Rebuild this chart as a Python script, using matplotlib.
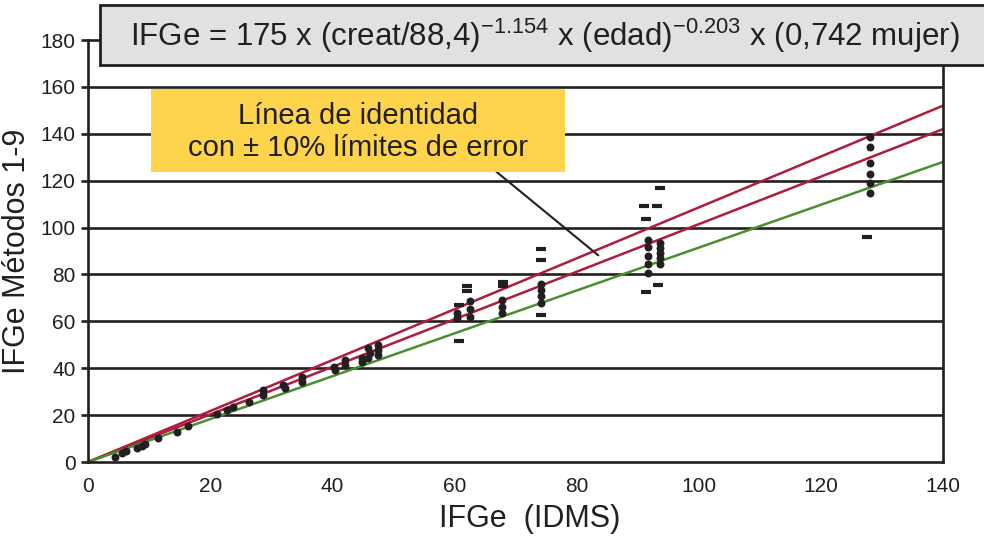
import matplotlib
matplotlib.use("Agg")
import matplotlib.pyplot as plt
from matplotlib.patches import Rectangle

# --- data ---
dots_x = [4.4, 5.5, 6.3, 8.0, 8.8, 9.3, 11.5, 14.5, 16.4, 21.1, 22.7, 23.8, 26.3, 28.7, 28.7,
          32.0, 32.3, 35.0, 35.0, 40.2, 40.5, 42.1, 42.1, 44.8, 44.8, 45.9, 46.2, 45.9,
          47.5, 47.5, 47.5,
          60.5, 60.5, 62.5, 62.5, 62.5,
          67.8, 67.8, 67.8,
          74.2, 74.2, 74.2, 74.2,
          91.7, 91.7, 91.7, 91.7, 91.7, 93.6, 93.6, 93.6, 93.6, 93.6,
          128.0, 128.0, 128.0, 128.0, 128.0, 128.0]
dots_y = [2.3, 3.7, 4.8, 5.8, 6.8, 7.7, 10.1, 12.9, 15.4, 20.3, 22.2, 23.6, 25.7, 28.6, 30.7,
          32.9, 31.4, 36.4, 34.2, 40.7, 39.2, 43.5, 41.4, 44.2, 42.8, 48.5, 46.4, 44.2,
          49.9, 47.8, 45.6,
          63.4, 61.3, 68.8, 65.3, 61.7,
          69.1, 66.3, 63.4,
          76.0, 73.5, 71.0, 68.0,
          94.7, 91.5, 88.0, 84.5, 80.5, 93.6, 91.1, 89.0, 86.9, 84.3,
          138.8, 134.2, 127.4, 122.9, 119.2, 114.6]

dash_x = [60.7, 60.7, 62.1, 62.1, 68.0, 68.0, 74.2, 74.2, 74.2,
          93.6, 91.1, 93.2, 91.4, 93.4, 91.4, 127.6]
dash_y = [67.0, 51.8, 75.1, 73.0, 76.9, 75.1, 90.9, 86.2, 62.7,
          116.8, 109.2, 109.2, 103.5, 75.5, 72.4, 95.9]

# identity line and error limits (end values at x = 140 as drawn)
line_x = [0, 140]
upper_y = [0, 152]
ident_y = [0, 142]
lower_y = [0, 128]

xticks = [0, 20, 40, 60, 80, 100, 120, 140]
yticks = [0, 20, 40, 60, 80, 100, 120, 140, 160, 180]

INK = "#231f20"
RED = "#ae1c3e"
GREEN = "#4a8f32"

plt.rcParams["font.family"] = ["Liberation Sans", "DejaVu Sans"]
plt.rcParams["mathtext.fontset"] = "custom"
plt.rcParams["mathtext.rm"] = "Liberation Sans"

fig = plt.figure(figsize=(9.84, 5.37), dpi=100)
ax = fig.add_axes([88 / 984, 1 - 462 / 537, 855 / 984, 422 / 537])

for yv in yticks[1:-1]:
    ax.axhline(yv, color=INK, lw=1.9, zorder=1)

ax.plot(line_x, upper_y, color=RED, lw=1.8, zorder=2)
ax.plot(line_x, ident_y, color=RED, lw=1.8, zorder=2)
ax.plot(line_x, lower_y, color=GREEN, lw=1.8, zorder=2)

ax.plot(dots_x, dots_y, "o", color=INK, ms=4.7, zorder=3)
ax.plot(dash_x, dash_y, "_", color=INK, ms=7, mew=3, zorder=3)

ax.set_xlim(0, 140)
ax.set_ylim(0, 180)
ax.set_xticks(xticks)
ax.set_yticks(yticks)
ax.tick_params(axis="x", length=0, pad=11, labelsize=15, labelcolor=INK)
ax.tick_params(axis="y", direction="out", length=5, width=1.9, color=INK, pad=4,
               labelsize=15, labelcolor=INK)
for s in ax.spines.values():
    s.set_linewidth(1.9)
    s.set_color(INK)

ax.set_xlabel("IFGe  (IDMS)", fontsize=22, labelpad=2, color=INK)
ax.xaxis.set_label_coords(0.517, -0.1)
ax.set_ylabel("IFGe Métodos 1-9", fontsize=22, labelpad=6, color=INK)

# yellow annotation box with leader line
ax.annotate("", xy=(83.9, 87.4), xytext=(66.5, 124.6),
            arrowprops=dict(arrowstyle="-", color=INK, lw=1.5), zorder=4)
ax.add_patch(Rectangle((10.3, 123.7), 67.8, 35.4, fc="#fdd44b", ec="none", zorder=5))
ax.text(44.2, 140.8, "Línea de identidad\ncon ± 10% límites de error",
        ha="center", va="center", fontsize=21, color=INK, linespacing=1.2, zorder=6)

# formula box at the top
fig.add_artist(Rectangle((100 / 984, 1 - 65 / 537), 0.95, 60 / 537,
                         transform=fig.transFigure, fc="#e1e1e3", ec=INK, lw=2, zorder=5))
fig.text(545 / 984, 1 - 36 / 537,
         r"IFGe = 175 x (creat/88,4)$^{\mathrm{-1.154}}$ x (edad)$^{\mathrm{-0.203}}$ x (0,742 mujer)",
         ha="center", va="center", fontsize=22.5, color=INK, zorder=6)

fig.savefig("out.png", dpi=100)
